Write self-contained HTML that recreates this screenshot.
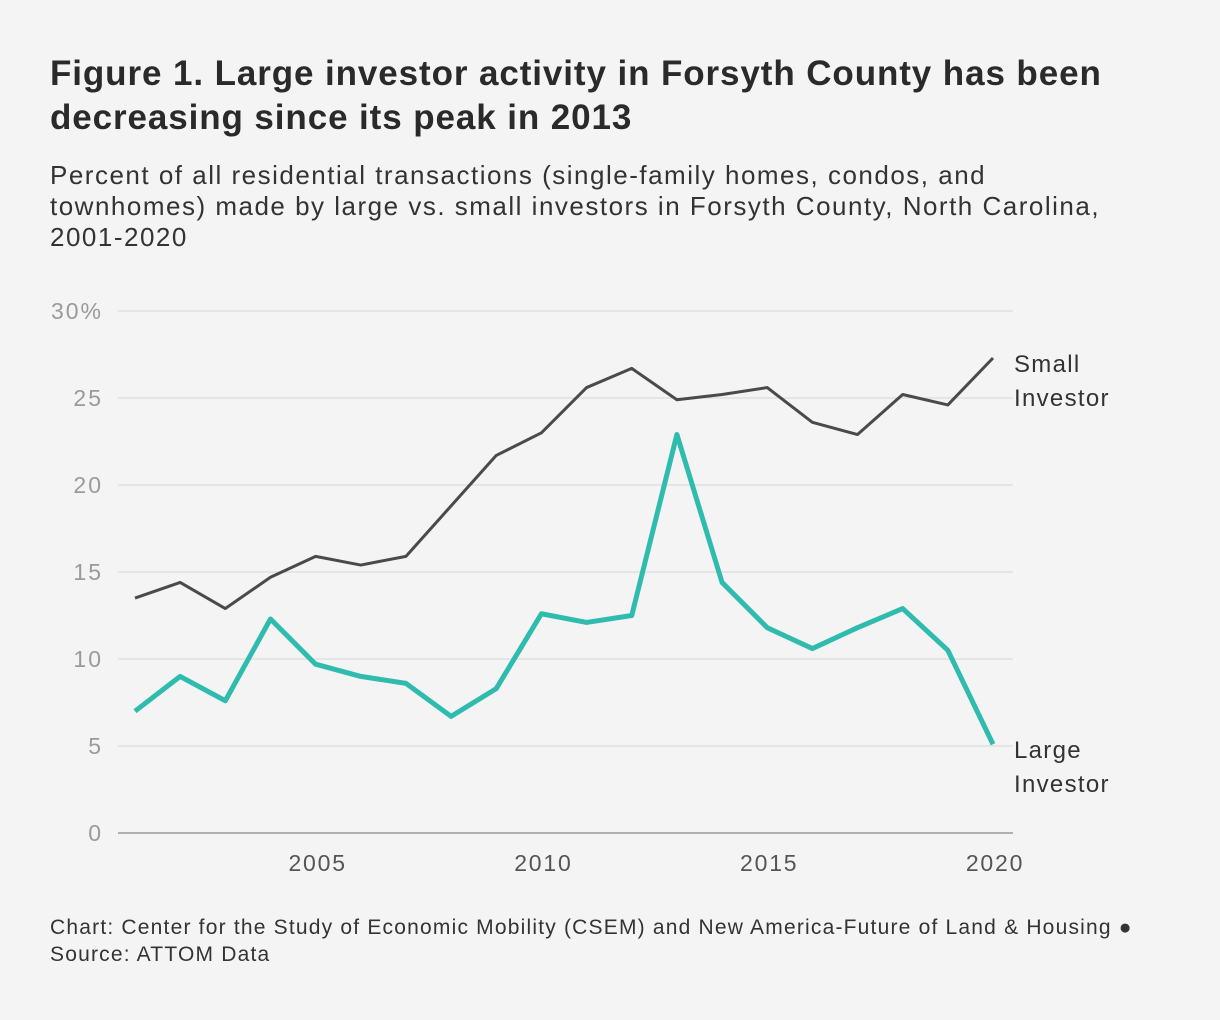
<!DOCTYPE html>
<html><head><meta charset="utf-8"><style>
body{margin:0;background:#f4f4f4;width:1220px;height:1020px;overflow:hidden;font-family:"Liberation Sans",sans-serif}
h1{position:absolute;left:50px;top:52px;margin:0;font-size:35px;line-height:44px;font-weight:bold;color:#2a2a2a;width:1160px;letter-spacing:0.9px}
.sub{position:absolute;left:50px;top:160px;font-size:26px;line-height:31px;color:#333;width:1100px;letter-spacing:1.5px;white-space:nowrap}
.foot{position:absolute;left:50px;top:914px;font-size:21px;line-height:27px;color:#333;letter-spacing:1.2px;white-space:nowrap}
svg{position:absolute;left:0;top:0}
</style></head><body>
<h1>Figure 1. Large investor activity in Forsyth County has been<br>decreasing since its peak in 2013</h1>
<div class="sub">Percent of all residential transactions (single-family homes, condos, and<br>townhomes) made by large vs. small investors in Forsyth County, North Carolina,<br>2001-2020</div>
<svg id="c" width="1220" height="1020"></svg>
<div class="foot">Chart: Center for the Study of Economic Mobility (CSEM) and New America-Future of Land &amp; Housing ●<br>Source: ATTOM Data</div>
<script>
const years=[2001,2002,2003,2004,2005,2006,2007,2008,2009,2010,2011,2012,2013,2014,2015,2016,2017,2018,2019,2020];
const smallInvestor=[13.5,14.4,12.9,14.7,15.9,15.4,15.9,18.8,21.7,23.0,25.6,26.7,24.9,25.2,25.6,23.6,22.9,25.2,24.6,27.3];
const largeInvestor=[7.0,9.0,7.6,12.3,9.7,9.0,8.6,6.7,8.3,12.6,12.1,12.5,22.9,14.4,11.8,10.6,11.8,12.9,10.5,5.1];
const yTicks=[0,5,10,15,20,25,30];
const yTickLabels=["0","5","10","15","20","25","30%"];
const xTicks=[2005,2010,2015,2020];
const ns="http://www.w3.org/2000/svg";
const svg=document.getElementById('c');
const x=v=>135+(v-2001)*(993-135)/19;
const y=v=>833-v*(833-311)/30;
function el(t,a){const e=document.createElementNS(ns,t);for(const k in a)e.setAttribute(k,a[k]);svg.appendChild(e);return e;}
yTicks.forEach((t,i)=>{
 const l=el('line',{x1:118,x2:1013,y1:y(t),y2:y(t),stroke:t===0?'#999':'#d6d6d6','stroke-width':t===0?1.5:1});
 
 
 const tx=el('text',{x:103,y:y(t)+8,'text-anchor':'end','font-size':23,fill:'#9a9a9a','font-family':'Liberation Sans','letter-spacing':2});
 tx.textContent=yTickLabels[i];
 
 
});
xTicks.forEach(t=>{
 const tx=el('text',{x:x(t)+2,y:871,'text-anchor':'middle','font-size':23,fill:'#555','font-family':'Liberation Sans','letter-spacing':1.8});
 tx.textContent=t;
 
 
});
function line(vals,color,w,name){
 const p=el('polyline',{points:vals.map((v,i)=>x(years[i])+','+y(v)).join(' '),fill:'none',stroke:color,'stroke-width':w,'stroke-linejoin':'round'});
 
 
}
line(smallInvestor,'#4a4a4a',3,'small-investor-line');
line(largeInvestor,'#2fbcaf',5,'large-investor-line');
function lab(lines,yy,name){
 const t=el('text',{x:1014,y:yy,'font-size':24,fill:'#333','font-family':'Liberation Sans','letter-spacing':1.3});
 
 
 lines.forEach((s,i)=>{const ts=document.createElementNS(ns,'tspan');ts.setAttribute('x',1014);ts.setAttribute('dy',i?34:0);ts.textContent=s;t.appendChild(ts);});
}
lab(['Small','Investor'],372,'small-investor-label');
lab(['Large','Investor'],758,'large-investor-label');
</script>
</body></html>
